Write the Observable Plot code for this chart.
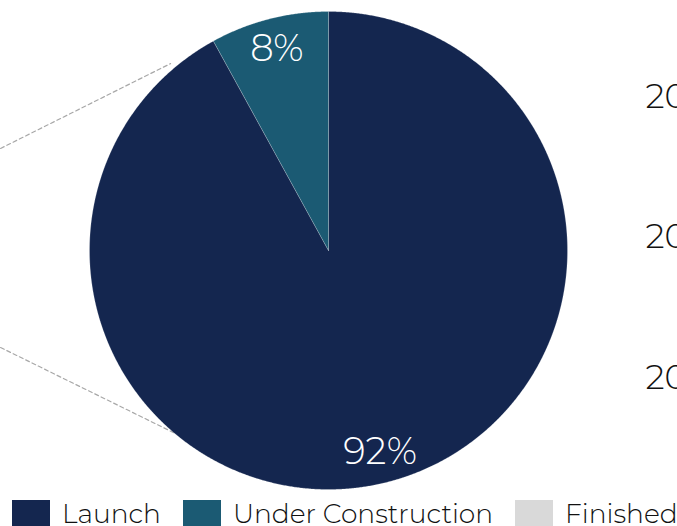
<!DOCTYPE html>
<html>
<head>
<meta charset="utf-8">
<script src="https://cdn.jsdelivr.net/npm/d3@7"></script>
<script src="https://cdn.jsdelivr.net/npm/@observablehq/plot@0.6"></script>
<style>
  html, body { margin: 0; padding: 0; background: #fff; overflow: hidden; width: 677px; height: 526px; }
  #chart { position: relative; width: 677px; height: 526px; font-family: Montserrat, Lato, "Open Sans", sans-serif; }
  #legend { position: absolute; left: 0; top: 500px; width: 677px; height: 40px; }
  .item { position: absolute; top: 0; display: flex; align-items: flex-start; }
  .sw { width: 38px; height: 26px; margin-right: 12px; }
  .lb { font-size: 26.5px; font-weight: 300; color: #111; line-height: 27px; white-space: nowrap; }
</style>
</head>
<body>
<div id="chart"></div>
<script>
// ---- data ----
const categories = ["Launch", "Under Construction", "Finished"];
const shares = [92, 8, 0];
const colors = ["#14264F", "#1B5A73", "#D9D9D9"];
const sliceLabels = ["92%", "8%", ""];
const sideLabels = ["20", "20", "20"];
const sideLabelY = [0.64, 0.054, -0.536];
// connector lines toward a preceding pie (unit-radius coordinates)
const connectorFrom = [[-1.372, 0.427], [-1.372, -0.406]];
const connectorTo = [[-0.661, 0.782], [-0.640, -0.766]];

// ---- build ----
const W = 677, H = 496;
const cx = 328, cy = 250, R = 239;

const data = categories.map((c, i) => ({cat: c, value: shares[i], label: sliceLabels[i]}));
const arcs = d3.pie().sort(null).value(d => d.value).startAngle(0).endAngle(2 * Math.PI)(data);

const polys = [];
for (const a of arcs) {
  if (a.endAngle - a.startAngle <= 0) continue;
  polys.push({cat: a.data.cat, x: 0, y: 0});
  const n = Math.max(2, Math.ceil((a.endAngle - a.startAngle) / 0.005));
  for (let k = 0; k <= n; k++) {
    const t = a.startAngle + (a.endAngle - a.startAngle) * k / n;
    polys.push({cat: a.data.cat, x: Math.sin(t), y: Math.cos(t)});
  }
  polys.push({cat: a.data.cat, x: 0, y: 0});
}

const labelPts = arcs.filter(a => a.data.label).map(a => {
  const m = (a.startAngle + a.endAngle) / 2;
  return {text: a.data.label, x: 0.87 * Math.sin(m), y: 0.87 * Math.cos(m)};
});

const conn = [];
connectorFrom.forEach((f, i) => {
  conn.push({id: i, x: f[0], y: f[1]});
  conn.push({id: i, x: connectorTo[i][0], y: connectorTo[i][1]});
});

const side = sideLabels.map((t, i) => ({text: t, x: (645 - cx) / R, y: sideLabelY[i]}));

const font = "Montserrat, Lato, 'Open Sans', sans-serif";

const plot = Plot.plot({
  width: W, height: H,
  margin: 0,
  x: {domain: [-cx / R, (W - cx) / R], range: [0, W], axis: null},
  y: {domain: [-(H - cy) / R, cy / R], range: [H, 0], axis: null},
  color: {domain: categories, range: colors},
  style: {background: "transparent", fontFamily: font},
  marks: [
    Plot.line(conn, {x: "x", y: "y", z: "id", stroke: "#A8A8A8", strokeWidth: 1.2, strokeDasharray: "4,3"}),
    Plot.line(polys, {x: "x", y: "y", z: "cat", fill: "cat", stroke: "#ffffff", strokeWidth: 0.4, strokeOpacity: 0.5, curve: "linear"}),
    Plot.text(labelPts, {x: "x", y: "y", text: "text", fill: "white", fontSize: 37, fontWeight: 300, fontFamily: font}),
    Plot.text(side, {x: "x", y: "y", text: "text", fill: "#111", fontSize: 34, fontWeight: 300, textAnchor: "start", fontFamily: font})
  ]
});

const chart = document.getElementById("chart");
chart.appendChild(plot);

const legend = document.createElement("div");
legend.id = "legend";
const lefts = [12, 183, 515];
categories.forEach((c, i) => {
  const it = document.createElement("div");
  it.className = "item";
  it.style.left = lefts[i] + "px";
  const sw = document.createElement("div");
  sw.className = "sw";
  sw.style.background = colors[i];
  const lb = document.createElement("div");
  lb.className = "lb";
  lb.textContent = c;
  it.appendChild(sw); it.appendChild(lb);
  legend.appendChild(it);
});
chart.appendChild(legend);
</script>
</body>
</html>
